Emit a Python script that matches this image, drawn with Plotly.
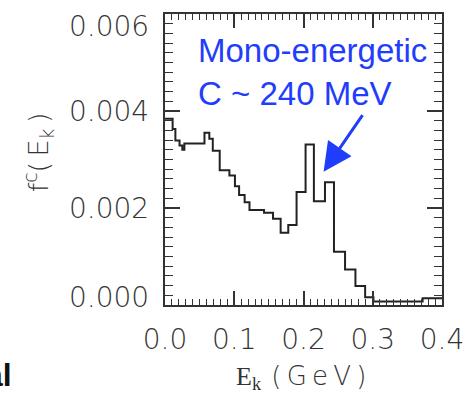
import plotly.graph_objects as go

# ---- data ----
bin_edges = [0.0, 0.011, 0.015, 0.021, 0.025, 0.028, 0.057, 0.064, 0.069, 0.079,
             0.093, 0.101, 0.107, 0.115, 0.122, 0.143, 0.156, 0.167, 0.178, 0.190,
             0.203, 0.215, 0.231, 0.244, 0.260, 0.275, 0.289, 0.301, 0.372, 0.400]
bin_values = [3.84e-3, 3.63e-3, 3.39e-3, 3.29e-3, 3.20e-3, 3.33e-3, 3.55e-3, 3.43e-3,
              3.18e-3, 2.78e-3, 2.67e-3, 2.45e-3, 2.27e-3, 2.12e-3, 1.96e-3, 1.90e-3,
              1.78e-3, 1.49e-3, 1.65e-3, 2.33e-3, 3.31e-3, 2.14e-3, 2.53e-3, 1.10e-3,
              0.73e-3, 0.39e-3, 0.16e-3, 0.07e-3, 0.14e-3]
x_tickvals = [0.0, 0.1, 0.2, 0.3, 0.4]
x_ticktext = ["0.0", "0.1", "0.2", "0.3", "0.4"]
y_tickvals = [0.0, 0.002, 0.004, 0.006]
y_ticktext = ["0.000", "0.002", "0.004", "0.006"]
arrow_target = (0.229, 0.00275)
note_text = "Mono-energetic<br>C ~ 240 MeV"

AX = "#333333"
LBL = "#333333"
BLUE = "#1f3dfa"
LIGHT = "DejaVu Sans ExtraLight, DejaVu Sans Light, DejaVu Sans"
TICKFONT = dict(family=LIGHT, size=28, color=LBL)

fig = go.Figure()
fig.add_trace(go.Scatter(
    x=bin_edges,
    y=bin_values + [bin_values[-1]],
    mode="lines",
    line=dict(shape="hv", color="#222222", width=2),
    showlegend=False,
    hoverinfo="skip",
))

fig.update_layout(
    width=476, height=393,
    margin=dict(l=165, r=23, t=13, b=88),
    paper_bgcolor="white", plot_bgcolor="white",
    showlegend=False,
)
fig.update_xaxes(
    range=[0, 0.4], tickvals=x_tickvals, ticktext=x_ticktext,
    ticks="inside", ticklen=14, tickwidth=1.5, tickcolor=AX,
    showline=True, linecolor=AX, linewidth=2, mirror="ticks",
    showgrid=False, zeroline=False, tickfont=TICKFONT,
    ticklabelstandoff=8,
    minor=dict(dtick=0.01, tick0=0, ticks="inside", ticklen=6, tickwidth=1.2,
               tickcolor=AX, showgrid=False),
)
fig.update_yaxes(
    range=[0, 0.006], tickvals=y_tickvals,
    ticks="inside", ticklen=15, tickwidth=1.5, tickcolor=AX,
    showline=True, linecolor=AX, linewidth=2, mirror="ticks",
    showgrid=False, zeroline=False, showticklabels=False,
    minor=dict(dtick=0.0002, tick0=0, ticks="inside", ticklen=8, tickwidth=1.2,
               tickcolor=AX, showgrid=False),
)

# y tick labels (extremes nudged inward as in the reference)
y_label_shift = [8, 0, 0, -12]
for v, t, s in zip(y_tickvals, y_ticktext, y_label_shift):
    fig.add_annotation(x=0, xref="paper", y=v, yref="y", text=t, showarrow=False,
                       xanchor="right", yanchor="middle", xshift=-14, yshift=s,
                       font=TICKFONT)

# axis titles
fig.add_annotation(x=-0.458, y=0.525, xref="paper", yref="paper",
                   text="f<sup>c</sup>(\u2009E<sub>k</sub>\u2009)", textangle=-90,
                   showarrow=False, xanchor="center", yanchor="middle",
                   font=dict(family=LIGHT, size=27, color=LBL))
fig.add_annotation(x=0.49, y=-0.25, xref="paper", yref="paper",
                   text="<span style='font-family:Liberation Serif'>E<sub>k</sub></span>\u2009\u2009(\u2009G\u2009e\u2009V\u2009)",
                   showarrow=False, xanchor="center", yanchor="middle",
                   font=dict(family=LIGHT, size=26, color=LBL))

# blue note and arrow
fig.add_annotation(x=0.111, y=0.801, xref="paper", yref="paper", text=note_text,
                   showarrow=False, xanchor="left", yanchor="middle", align="left",
                   font=dict(family="Liberation Sans", size=33, color=BLUE))
fig.add_annotation(x=arrow_target[0], y=arrow_target[1], xref="x", yref="y", text="",
                   showarrow=True, ax=40, ay=-58, arrowcolor=BLUE, arrowwidth=3,
                   arrowhead=2, arrowsize=1.9, standoff=0)

# cropped neighbour-panel label fragment at bottom-left
fig.add_annotation(x=-0.531, y=-0.24, xref="paper", yref="paper", text="<b>al</b>",
                   showarrow=False, xanchor="right", yanchor="middle", xshift=-4,
                   font=dict(family="Liberation Sans", size=32, color="#111111"))

fig.write_html("out.html")
